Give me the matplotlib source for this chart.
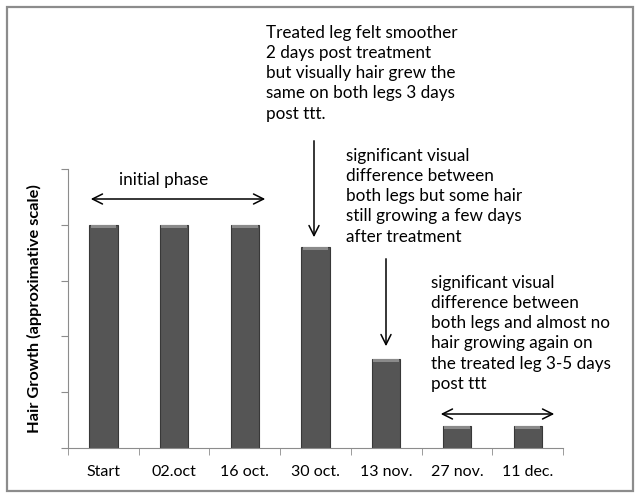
import numpy as np
import matplotlib.pyplot as plt
from matplotlib.patches import Rectangle

plt.rcParams['font.family'] = ['Lato', 'DejaVu Sans']

# data (y axis has no labels, ticks every 1 unit)
dates = ["Start", "02.oct", "16 oct.", "30 oct.", "13 nov.", "27 nov.", "11 dec."]
growth = [4.0, 4.0, 4.0, 3.6, 1.6, 0.4, 0.4]

note_top = ("Treated leg felt smoother\n2 days post treatment\n"
            "but visually hair grew the\nsame on both legs 3 days\npost ttt.")
note_mid = ("significant visual\ndifference between\nboth legs but some hair\n"
            "still growing a few days\nafter treatment")
note_end = ("significant visual\ndifference between\nboth legs and almost no\n"
            "hair growing again on\nthe treated leg 3-5 days\npost ttt")

W, H = 640, 499
fig = plt.figure(figsize=(W / 100, H / 100), dpi=100)
fig.patches.append(Rectangle((7 / W, (H - 491) / H), 626 / W, 484 / H,
                             transform=fig.transFigure, fill=False,
                             edgecolor='#8c8c8c', linewidth=1.6))

ax = fig.add_axes([68 / W, (H - 448) / H, 495 / W, 279 / H])
x = np.arange(len(dates))
bars = ax.bar(x, growth, width=0.4, color='#555555', edgecolor='#383838', linewidth=0.8)
# light bevel strip on top of each bar
ax.bar(x, [0.06] * len(x), bottom=np.array(growth) - 0.06, width=0.36,
       color='#8a8a8a', linewidth=0)

ax.set_xlim(-0.5, len(dates) - 0.5)
ax.set_ylim(0, 5)
ax.set_yticks(np.arange(0, 6))
ax.set_yticklabels([])
ax.set_xticks(x)
ax.set_xticklabels(dates, fontsize=11.5)
ax.set_xticks(np.arange(-0.5, len(dates)), minor=True)
ax.tick_params(axis='x', which='major', length=0, pad=12)
ax.tick_params(axis='x', which='minor', length=5, color='#8c8c8c')
ax.tick_params(axis='y', length=5, color='#8c8c8c')
for s in ['top', 'right']:
    ax.spines[s].set_visible(False)
for s in ['left', 'bottom']:
    ax.spines[s].set_color('#8c8c8c')
ax.set_ylabel("Hair Growth (approximative scale)", fontsize=11.8,
              fontweight='bold', labelpad=10)

# annotations in pixel-like figure coords
def fx(px):
    return px / W

def fy(py):
    return (H - py) / H

arrow = dict(arrowstyle='<->', color='black', lw=1.1, mutation_scale=18)
down = dict(arrowstyle='->', color='black', lw=1.1, mutation_scale=18)
fs = 12.3
ls = 1.32

fig.text(fx(164), fy(180), "initial phase", fontsize=fs, ha='center', va='center')
ax.annotate("", xy=(fx(268), fy(199)), xytext=(fx(88), fy(199)),
            xycoords='figure fraction', arrowprops=arrow)

fig.text(fx(266), fy(25), note_top, fontsize=fs, ha='left', va='top', linespacing=ls)
ax.annotate("", xy=(fx(314), fy(240)), xytext=(fx(314), fy(138)),
            xycoords='figure fraction', arrowprops=down)

fig.text(fx(346), fy(148), note_mid, fontsize=fs, ha='left', va='top', linespacing=ls)
ax.annotate("", xy=(fx(386), fy(349)), xytext=(fx(386), fy(256)),
            xycoords='figure fraction', arrowprops=down)

fig.text(fx(431), fy(275), note_end, fontsize=fs, ha='left', va='top', linespacing=ls)
ax.annotate("", xy=(fx(557), fy(414)), xytext=(fx(438), fy(414)),
            xycoords='figure fraction', arrowprops=arrow)

fig.savefig("out.png", dpi=100)
